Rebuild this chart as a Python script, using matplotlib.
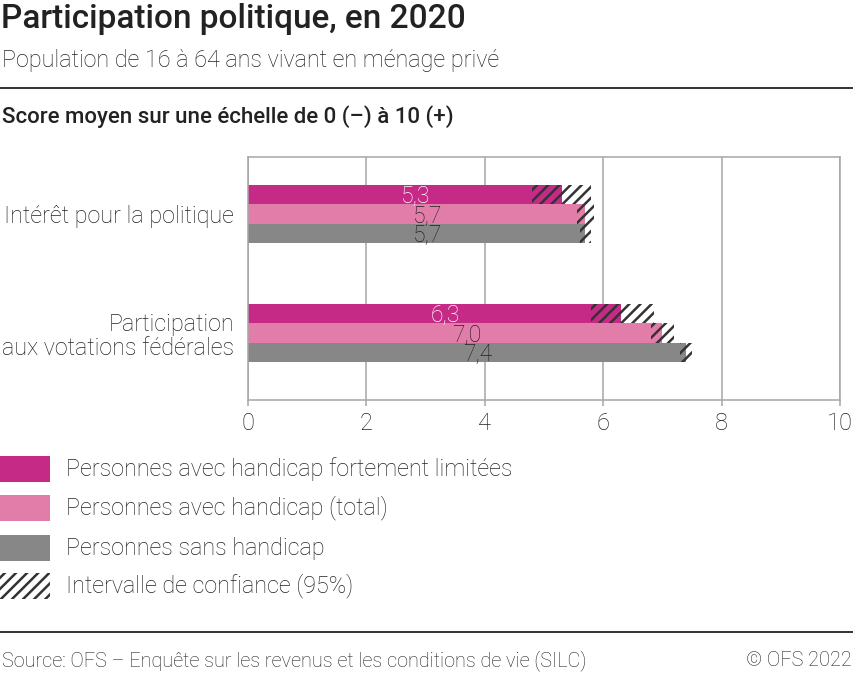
import numpy as np
import matplotlib
matplotlib.use("Agg")
import matplotlib.pyplot as plt
from matplotlib.patches import Rectangle

plt.rcParams['font.family'] = ['Roboto', 'DejaVu Sans']
plt.rcParams['hatch.linewidth'] = 1.8
plt.rcParams['hatch.color'] = '#333333'

categories = ["Intérêt pour la politique", "Participation\naux votations fédérales"]
series = ["Personnes avec handicap fortement limitées",
          "Personnes avec handicap (total)",
          "Personnes sans handicap"]
fort_val = [5.3, 6.3]
total_val = [5.7, 7.0]
sans_val = [5.7, 7.4]
fort_lo = [4.8, 5.8]
fort_hi = [5.8, 6.85]
total_lo = [5.55, 6.8]
total_hi = [5.85, 7.2]
sans_lo = [5.6, 7.3]
sans_hi = [5.8, 7.5]
labels = [["5,3", "6,3"], ["5,7", "7,0"], ["5,7", "7,4"]]

colors = ['#c52a87', '#e27daa', '#878787']
text_colors = ['white', '#222222', '#222222']
grid_col = '#a6a6a6'

W, H = 854, 673
fig = plt.figure(figsize=(W / 100, H / 100), dpi=100)

def fx(px):
    return px / W

def fy(py):
    return 1 - py / H

ax = fig.add_axes([fx(248), fy(400), fx(840) - fx(248), fy(157) - fy(400)])

y = np.arange(len(categories))
h = 0.164
vals = [fort_val, total_val, sans_val]
los = [fort_lo, total_lo, sans_lo]
his = [fort_hi, total_hi, sans_hi]

for i in range(3):
    yy = y + (i - 1) * h
    ax.barh(yy, vals[i], height=h, color=colors[i], linewidth=0, zorder=2)
    ax.barh(yy, np.array(his[i]) - np.array(los[i]), left=los[i], height=h,
            facecolor='none', edgecolor='#333333', hatch='///', linewidth=0, zorder=3)
    for j in range(len(categories)):
        ax.annotate(labels[i][j], xy=(vals[i][j] / 2, yy[j]), xytext=(8, -1),
                    textcoords='offset points', ha='center', va='center',
                    fontsize=16.5, fontweight='light', color=text_colors[i], zorder=4)

ax.set_xlim(0, 10)
ax.set_ylim(1 + 67 / 119, -57 / 119)
ax.set_xticks([0, 2, 4, 6, 8, 10])
ax.set_xticklabels(['0', '2', '4', '6', '8', '10'], fontsize=17, fontweight='light', color='#222222')
ax.set_yticks(y)
ax.set_yticklabels(categories, fontsize=16.8, fontweight='light', color='#222222', ha='right',
                   linespacing=1.1)
ax.tick_params(axis='y', length=0, pad=10)
ax.tick_params(axis='x', length=4, width=1.1, color=grid_col, pad=5)
ax.grid(axis='x', color=grid_col, linewidth=1.1, zorder=0)
ax.set_axisbelow(True)
for s in ax.spines.values():
    s.set_color(grid_col)
    s.set_linewidth(1.1)

# header
fig.text(fx(1), fy(19), "Participation politique, en 2020", fontsize=24, fontweight='medium',
         color='#222222', va='center', ha='left')
fig.text(fx(2), fy(60), "Population de 16 à 64 ans vivant en ménage privé", fontsize=16.8,
         fontweight='light', color='#222222', va='center', ha='left')
fig.add_artist(plt.Line2D([0, 1], [fy(88), fy(88)], color='#222222', linewidth=1.3))
fig.text(fx(2), fy(117), "Score moyen sur une échelle de 0 (–) à 10 (+)", fontsize=16,
         fontweight='medium', color='#222222', va='center', ha='left')

# legend
leg_y = [469, 508, 548, 586]
for k in range(3):
    fig.add_artist(Rectangle((fx(0), fy(leg_y[k] + 13)), fx(50), fy(0) - fy(26),
                             transform=fig.transFigure, facecolor=colors[k], linewidth=0))
    fig.text(fx(66), fy(leg_y[k]), series[k], fontsize=16.8, fontweight='light',
             color='#222222', va='center', ha='left')
fig.add_artist(Rectangle((fx(0), fy(leg_y[3] + 13)), fx(50), fy(0) - fy(26),
                         transform=fig.transFigure, facecolor='white', edgecolor='#333333',
                         hatch='///', linewidth=0))
fig.text(fx(66), fy(leg_y[3]), "Intervalle de confiance (95%)", fontsize=16.8, fontweight='light',
         color='#222222', va='center', ha='left')

# footer
fig.add_artist(plt.Line2D([0, 1], [fy(632), fy(632)], color='#222222', linewidth=1.3))
fig.text(fx(2), fy(661), "Source: OFS – Enquête sur les revenus et les conditions de vie (SILC)",
         fontsize=14.3, fontweight='light', color='#222222', va='center', ha='left')
fig.text(fx(852), fy(661), "© OFS 2022", fontsize=14.3, fontweight='light', color='#222222',
         va='center', ha='right')

fig.savefig("out.png", dpi=100)
